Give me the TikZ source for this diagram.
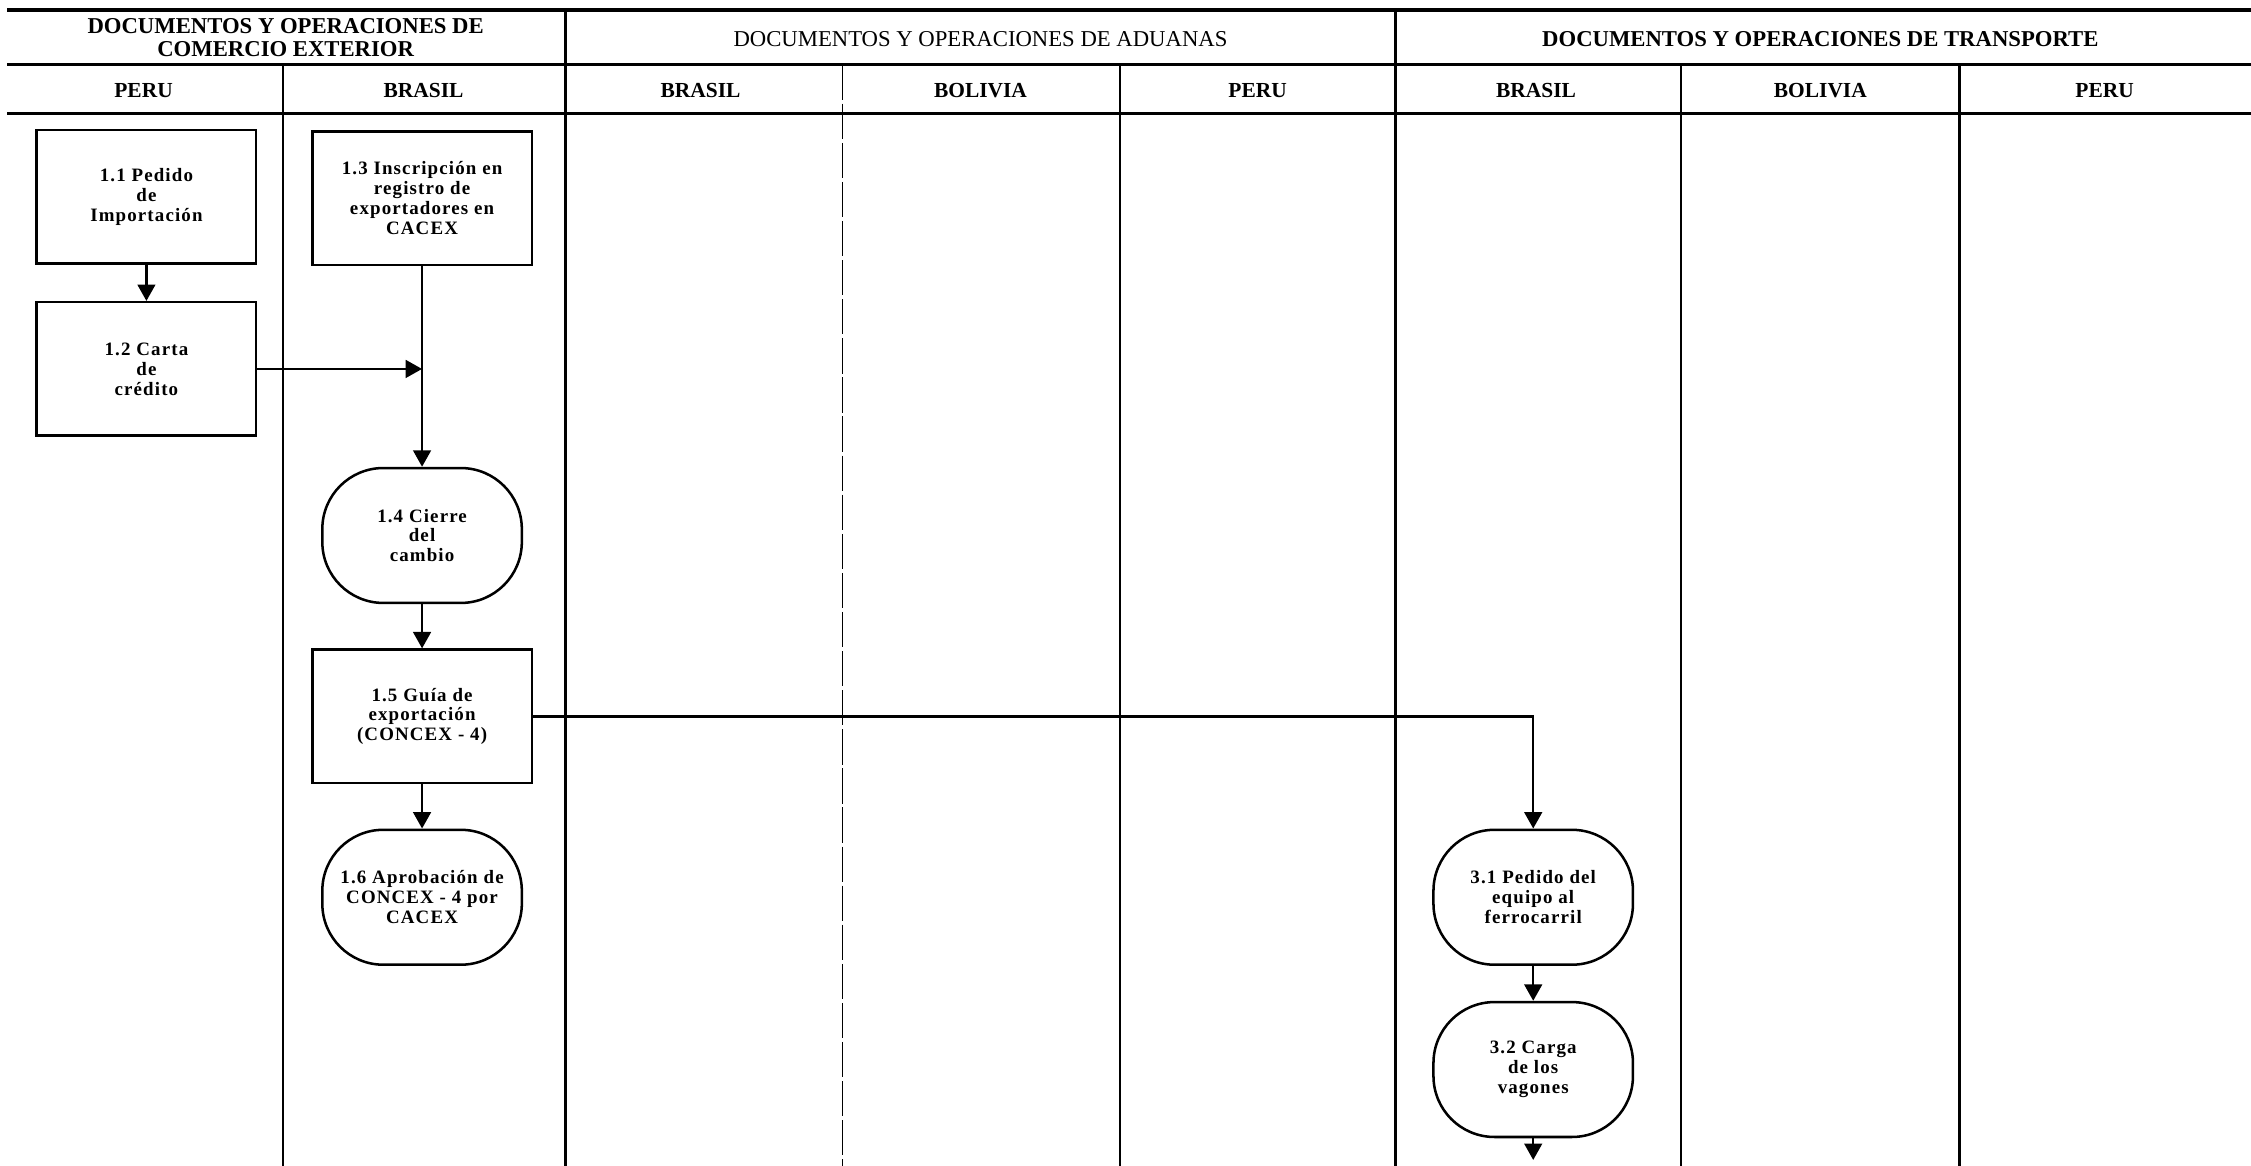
\documentclass[tikz,border=0pt]{standalone}
\usepackage{fontspec}
\setmainfont{Liberation Serif}
\newfontfamily\boxfont{Liberation Serif}[LetterSpace=6]
\usepackage{tikz}
\usetikzlibrary{arrows.meta}

\tikzset{
  lane/.style={line width=0.9pt},
  rule/.style={line width=1.4pt},
  title/.style={font=\bfseries\fontsize{9}{9}\selectfont, align=center},
  country/.style={font=\bfseries\fontsize{8.5}{9}\selectfont},
  procbox/.style={draw, line width=1pt, minimum width=3.06cm, minimum height=1.86cm,
    align=center, inner sep=1pt, font=\boxfont\bfseries\fontsize{7.5}{7.9}\selectfont},
  roundbox/.style={procbox, minimum width=2.78cm, minimum height=1.88cm, rounded corners=0.85cm},
  flow/.style={-{Triangle[length=6.5pt,width=7pt]}, line width=1pt},
}

\begin{document}
\begin{tikzpicture}[x=0.02cm, y=-0.02cm]
\useasboundingbox (0,0) rectangle (1568,812);

% header rules
\draw[rule] (5,7) -- (1568,7);
\draw[rule] (5,45) -- (1568,45);
\draw[rule] (5,79) -- (1568,79);

% lane separators
\foreach \x in {394,972}
  \draw[lane] (\x,7) -- (\x,812);
\foreach \x in {197,780,1171,1365}
  \draw[lane] (\x,45) -- (\x,812);
\draw[lane, line width=0.6pt, dash pattern=on 14pt off 1.5pt] (587,45) -- (587,812);

% group titles
\node[title] (tcom) at (199,26) {DOCUMENTOS Y OPERACIONES DE\\COMERCIO EXTERIOR};
\node[title, font=\fontsize{9}{9}\selectfont] (tadu) at (683,27) {DOCUMENTOS Y OPERACIONES DE ADUANAS};
\node[title] (ttra) at (1268,27) {DOCUMENTOS Y OPERACIONES DE TRANSPORTE};

% countries
\node[country] (c1) at (100,63) {PERU};
\node[country] (c2) at (295,63) {BRASIL};
\node[country] (c3) at (488,63) {BRASIL};
\node[country] (c4) at (683,63) {BOLIVIA};
\node[country] (c5) at (876,63) {PERU};
\node[country] (c6) at (1070,63) {BRASIL};
\node[country] (c7) at (1268,63) {BOLIVIA};
\node[country] (c8) at (1466,63) {PERU};

% steps
\node[procbox] (n11) at (102,137) {1.1 Pedido\\de\\Importación};
\node[procbox] (n12) at (102,257) {1.2 Carta\\de\\crédito};
\node[procbox] (n13) at (294,138) {1.3 Inscripción en\\registro de\\exportadores en\\CACEX};
\node[roundbox] (n14) at (294,373) {1.4 Cierre\\del\\cambio};
\node[procbox] (n15) at (294,499) {1.5 Guía de\\exportación\\(CONCEX - 4)};
\node[roundbox] (n16) at (294,625) {1.6 Aprobación de\\CONCEX - 4 por\\CACEX};
\node[roundbox] (n31) at (1068,625) {3.1 Pedido del\\equipo al\\ferrocarril};
\node[roundbox] (n32) at (1068,745) {3.2 Carga\\de los\\vagones};
\coordinate (j) at (n13.south |- n12.east);
\coordinate (out) at (1068,808);

% connectors
\draw[flow] (n11) -- (n12);
\draw[flow] (n12.east) -- (j);
\draw[flow] (n13) -- (n14);
\draw[flow] (n14) -- (n15);
\draw[flow] (n15) -- (n16);
\draw[flow] (n15.east) -| (n31.north);
\draw[flow] (n31) -- (n32);
\draw[flow] (n32) -- (out);
\end{tikzpicture}
\end{document}
